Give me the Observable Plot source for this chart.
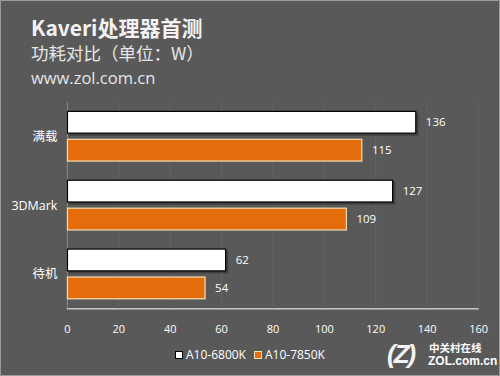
<!DOCTYPE html>
<html>
<head>
<meta charset="utf-8">
<script src="https://cdn.jsdelivr.net/npm/d3@7"></script>
<script src="https://cdn.jsdelivr.net/npm/@observablehq/plot@0.6"></script>
<style>
  html, body { margin: 0; padding: 0; background: #595959; }
  #wrap { position: relative; width: 500px; height: 376px; box-sizing: border-box;
          border: 1px solid #9a9a9a; background: #595959; overflow: hidden;
          font-family: "Noto Sans", "Noto Sans CJK SC", sans-serif; }
  #chart { position: absolute; left: -1px; top: -1px; }
  .t { position: absolute; white-space: nowrap; }
  #title { left: 30px; top: 12px; font-size: 21px; line-height: 28px; font-weight: bold; color: #f2f2f2; font-family: "Noto Sans CJK SC", sans-serif; }
  #sub { left: 30px; top: 40px; font-size: 17.5px; line-height: 24px; color: #e6e6e6; font-family: "Noto Sans CJK SC", sans-serif; }
  #url { left: 30px; top: 65px; font-size: 16.5px; line-height: 24px; color: #e6e6e6; font-family: "Open Sans", "Noto Sans", sans-serif; }
  #legend { left: 174px; top: 345px; font-size: 12px; color: #fff; display: flex; align-items: center; font-family: "Open Sans", "Noto Sans", sans-serif; }
  .sw { display: inline-block; width: 8px; height: 8px; margin-right: 3px; box-sizing: border-box; }
  #wmz { left: 386px; top: 338px; font-size: 26px; line-height: 30px; font-weight: bold; font-style: italic; font-family: "Liberation Sans", sans-serif; color: #f4f4f4; letter-spacing: -2px; }
  #wm1 { left: 428px; top: 340px; font-size: 10.5px; line-height: 13px; font-weight: bold; color: #fff; font-family: "Noto Sans CJK SC", sans-serif; }
  #wm2 { left: 427px; top: 353px; font-size: 12px; line-height: 14px; font-weight: bold; color: #fff; font-family: "Liberation Sans", sans-serif; }
</style>
</head>
<body>
<div id="wrap">
  <div id="chart"></div>
  <div class="t" id="title">Kaveri处理器首测</div>
  <div class="t" id="sub">功耗对比（单位：W）</div>
  <div class="t" id="url">www.zol.com.cn</div>
  <div class="t" id="legend"></div>
  <div class="t" id="wmz">(Z)</div>
  <div class="t" id="wm1">中关村在线</div>
  <div class="t" id="wm2">ZOL.com.cn</div>
</div>
<script>
const categories = ["满载", "3DMark", "待机"];
const series = ["A10-6800K", "A10-7850K"];
const valuesA6800K = [136, 127, 62];
const valuesA7850K = [115, 109, 54];
const xTicks = [0, 20, 40, 60, 80, 100, 120, 140, 160];
const colors = ["#ffffff", "#e46c0a"];
const strokes = ["#000000", "#f6dfb4"];

const data = [];
categories.forEach((c, i) => {
  data.push({category: c, series: series[0], value: valuesA6800K[i]});
  data.push({category: c, series: series[1], value: valuesA7850K[i]});
});
const whiteData = data.filter(d => d.series === series[0]);

const fontFamily = '"Open Sans", "Noto Sans", "Noto Sans CJK SC", sans-serif';

const chart = Plot.plot({
  width: 500,
  height: 376,
  marginLeft: 67,
  marginRight: 21,
  marginTop: 101,
  marginBottom: 67,
  style: {background: "transparent", color: "#ffffff", fontSize: "11px", fontFamily},
  x: {domain: [0, 160], ticks: xTicks, tickSize: 0, tickPadding: 16, label: null, line: true},
  y: {domain: series, axis: null, paddingInner: 0.172, paddingOuter: 0.293},
  fy: {domain: categories, padding: 0, axis: "left", tickSize: 0, tickPadding: 10, label: null},
  color: {domain: series, range: colors},
  facet: {label: null},
  marks: [
    Plot.ruleX(xTicks.slice(1), {stroke: "#636363", strokeWidth: 1}),
    Plot.ruleX([0], {stroke: "#8c8c8c", strokeWidth: 1}),
    Plot.barX(whiteData, {x: "value", y: "series", fy: "category", fill: "#2a2a2a", fillOpacity: 0.55, dx: 2, dy: 2}),
    Plot.barX(data, {x: "value", y: "series", fy: "category", fill: "series",
      stroke: d => strokes[series.indexOf(d.series)], strokeWidth: 1.2, inset: 0.6}),
    Plot.text(data, {x: "value", y: "series", fy: "category", text: d => String(d.value),
      dx: 9, textAnchor: "start", fill: "#ffffff", fontSize: 11.5})
  ]
});
document.getElementById("chart").appendChild(chart);

// recolor x axis domain line to gray
chart.querySelectorAll('[aria-label="x-axis"] path, [aria-label="x-axis line"] line, [aria-label="x-axis line"] path').forEach(el => el.setAttribute("stroke", "#8c8c8c"));
// category labels larger
chart.querySelectorAll('[aria-label="fy-axis tick label"] text, [aria-label="fy-axis"] text').forEach(el => el.setAttribute("font-size", "12.5"));

const legend = document.getElementById("legend");
series.forEach((s, i) => {
  const item = document.createElement("span");
  item.style.display = "inline-flex";
  item.style.alignItems = "center";
  item.style.marginRight = "8px";
  const sw = document.createElement("span");
  sw.className = "sw";
  sw.style.background = colors[i];
  sw.style.border = i === 0 ? "1px solid #000" : "1px solid #f6dfb4";
  item.appendChild(sw);
  item.appendChild(document.createTextNode(s));
  legend.appendChild(item);
});
</script>
</body>
</html>
